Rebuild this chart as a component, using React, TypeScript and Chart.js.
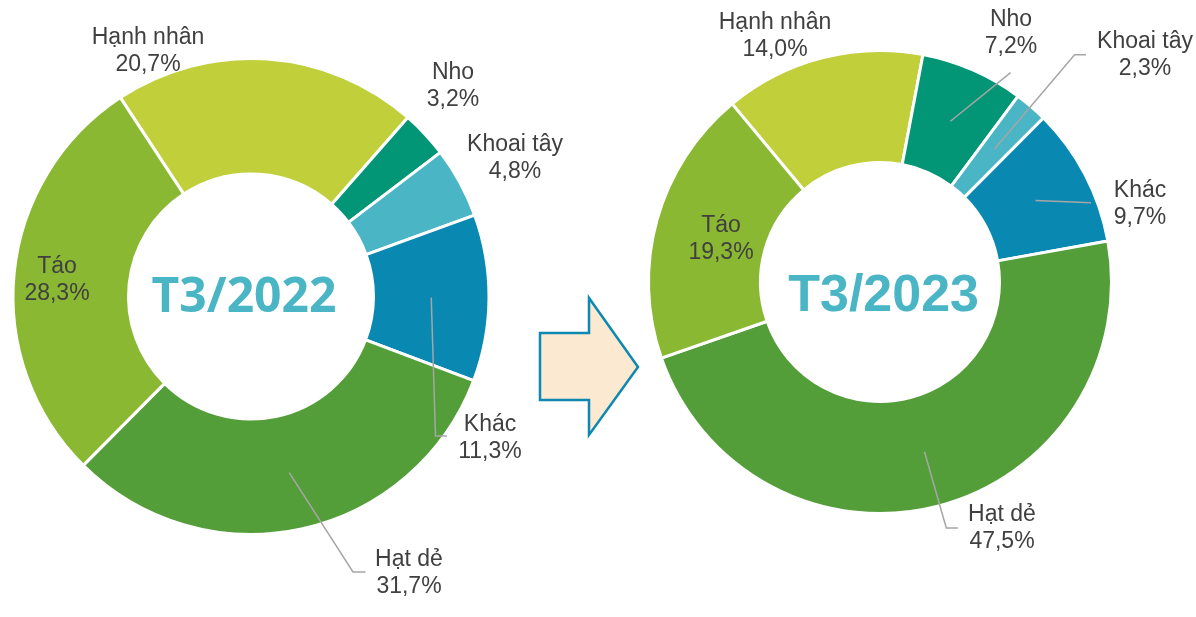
import React, { useEffect, useRef } from 'react';
import { Chart, registerables } from 'chart.js';

Chart.register(...registerables);

// ---- data ----
const categories = ['Hạnh nhân', 'Nho', 'Khoai tây', 'Khác', 'Hạt dẻ', 'Táo'];
const share2022 = [20.7, 3.2, 4.8, 11.3, 31.7, 28.3];
const share2023 = [14.0, 7.2, 2.3, 9.7, 47.5, 19.3];
const periodLabels = ['T3/2022', 'T3/2023'];

// ---- styles ----
const sliceColors = ['#C0CF3A', '#029676', '#4AB5C4', '#0989B1', '#549E39', '#8AB833'];
const labelColor = '#404040';
const leaderColor = '#A6A6A6';
const centerColor = '#4AB5C4';

type LabelLayout = { label: [number, number]; leader: [number, number][] | null };

// label centre & leader path points, relative to the donut centre
const layout2022: LabelLayout[] = [
  { label: [-103, -245], leader: null },
  { label: [202, -210.5], leader: null },
  { label: [264, -138], leader: null },
  { label: [239, 141.5], leader: [[184.5, 139.5], [196, 139.5]] },
  { label: [158, 277], leader: [[102, 275.5], [114.5, 275.5]] },
  { label: [-194, -16], leader: null },
];
const layout2023: LabelLayout[] = [
  { label: [-105, -246], leader: null },
  { label: [131, -249], leader: [[130.6, -209.3]] },
  { label: [265, -226.5], leader: [[194.6, -227.3], [206, -227.3]] },
  { label: [260, -77.5], leader: [[211, -79.2]] },
  { label: [122, 246.5], leader: [[66.3, 246], [77.8, 246]] },
  { label: [-159, -42.5], leader: null },
];

const fmt = (v: number) => v.toFixed(1).replace('.', ',') + '%';

type DonutSpec = {
  values: number[];
  title: string;
  left: number;
  width: number;
  height: number;
  padding: { left: number; right: number; top: number; bottom: number };
  radius: number;
  inner: number;
  rotation: number;
  titleFont: string;
  titleDx: number;
  titleBaselineDy: number;
  layout: LabelLayout[];
};

const specs: DonutSpec[] = [
  {
    values: share2022,
    title: periodLabels[0],
    left: 0,
    width: 600,
    height: 617,
    padding: { left: 0, right: 98, top: 0, bottom: 24 },
    radius: 238,
    inner: 122.5,
    rotation: -33.3,
    titleFont: 'bold 48px "Open Sans"',
    titleDx: -7,
    titleBaselineDy: 15.5,
    layout: layout2022,
  },
  {
    values: share2023,
    title: periodLabels[1],
    left: 600,
    width: 596,
    height: 617,
    padding: { left: 0, right: 36, top: 0, bottom: 53 },
    radius: 231.5,
    inner: 119.5,
    rotation: -39.7,
    titleFont: 'bold 52px "Liberation Sans"',
    titleDx: 3.6,
    titleBaselineDy: 29,
    layout: layout2023,
  },
];

function Donut({ spec }: { spec: DonutSpec }) {
  const ref = useRef<HTMLCanvasElement | null>(null);
  useEffect(() => {
    if (!ref.current) return;
    const labelPlugin = {
      id: 'donutLabels',
      afterDatasetsDraw(chart: any) {
        const ctx = chart.ctx as CanvasRenderingContext2D;
        const meta = chart.getDatasetMeta(0);
        const ds = chart.data.datasets[0];
        ctx.save();
        meta.data.forEach((arc: any, i: number) => {
          const p = arc.getProps(['x', 'y', 'startAngle', 'endAngle', 'innerRadius', 'outerRadius'], true);
          const cx = p.x;
          const cy = p.y;
          const lay = spec.layout[i];
          if (lay.leader) {
            const mid = (p.startAngle + p.endAngle) / 2;
            const r = (p.innerRadius + p.outerRadius) / 2;
            ctx.beginPath();
            ctx.strokeStyle = leaderColor;
            ctx.lineWidth = 1.5;
            ctx.moveTo(cx + Math.cos(mid) * r, cy + Math.sin(mid) * r);
            lay.leader.forEach(([dx, dy]) => ctx.lineTo(cx + dx, cy + dy));
            ctx.stroke();
          }
          ctx.fillStyle = labelColor;
          ctx.font = '23px "Liberation Sans", Arial, sans-serif';
          ctx.textAlign = 'center';
          ctx.textBaseline = 'middle';
          const lx = cx + lay.label[0];
          const ly = cy + lay.label[1];
          ctx.fillText(chart.data.labels[i], lx, ly - 13.5);
          ctx.fillText(fmt(ds.data[i]), lx, ly + 13.5);
        });
        const first = meta.data[0];
        if (first) {
          ctx.fillStyle = centerColor;
          ctx.font = spec.titleFont;
          ctx.textAlign = 'center';
          ctx.textBaseline = 'alphabetic';
          ctx.fillText(spec.title, first.x + spec.titleDx, first.y + spec.titleBaselineDy);
        }
        ctx.restore();
      },
    };
    const chart = new Chart(ref.current, {
      type: 'doughnut',
      data: {
        labels: categories,
        datasets: [
          {
            data: spec.values,
            backgroundColor: sliceColors,
            borderColor: '#FFFFFF',
            borderWidth: 3,
          },
        ],
      },
      options: {
        animation: false,
        responsive: false,
        maintainAspectRatio: false,
        events: [],
        radius: spec.radius,
        cutout: ((spec.inner / spec.radius) * 100).toFixed(2) + '%',
        rotation: spec.rotation,
        layout: { padding: spec.padding },
        plugins: {
          legend: { display: false },
          tooltip: { enabled: false },
          title: { display: false },
        },
      } as any,
      plugins: [labelPlugin],
    });
    return () => chart.destroy();
  }, [spec]);
  return (
    <canvas
      ref={ref}
      width={spec.width}
      height={spec.height}
      style={{ position: 'absolute', left: spec.left, top: 0, width: spec.width, height: spec.height }}
    />
  );
}

export default function App() {
  return (
    <div style={{ position: 'absolute', left: 0, top: 0, width: 1196, height: 617, background: '#FFFFFF', overflow: 'hidden' }}>
      <svg width={1196} height={617} style={{ position: 'absolute', left: 0, top: 0 }}>
        <polygon
          points="540,333 589,333 589,298 638,367 589,435 589,400 540,400"
          fill="#FBE9D2"
          stroke="#0E88B0"
          strokeWidth={2.5}
          strokeLinejoin="miter"
        />
      </svg>
      {specs.map((s) => (
        <Donut key={s.title} spec={s} />
      ))}
    </div>
  );
}
